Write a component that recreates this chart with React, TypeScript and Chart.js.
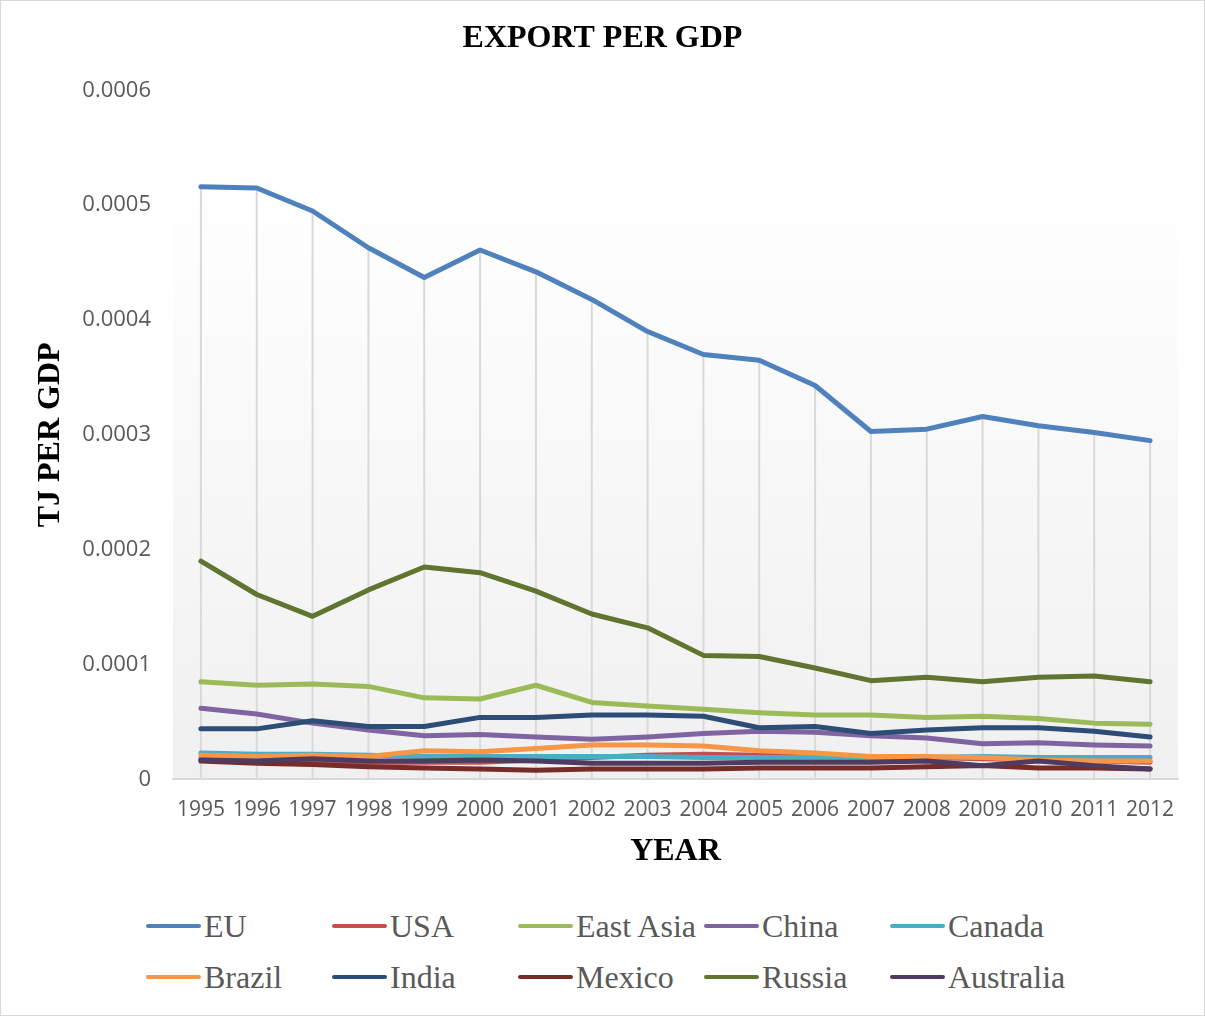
import React, { useEffect, useRef } from "react";
import { Chart, registerables } from "chart.js";

Chart.register(...registerables);

const years = ["1995","1996","1997","1998","1999","2000","2001","2002","2003","2004","2005","2006","2007","2008","2009","2010","2011","2012"];

const seriesNames = ["EU","USA","East Asia","China","Canada","Brazil","India","Mexico","Russia","Australia"];
const seriesColors = ["#4f81bd","#c0504d","#9bbb59","#8064a2","#4bacc6","#f79646","#2c4d75","#772c2a","#5f7530","#4d3b62"];

const eu = [0.000516,0.000515,0.000495,0.000463,0.000437,0.000461,0.000442,0.000418,0.00039,0.00037,0.000365,0.000343,0.000303,0.000305,0.000316,0.000308,0.000302,0.000295];
const usa = [0.000018,0.000017,0.000016,0.000015,0.000015,0.000015,0.000017,0.000019,0.000021,0.000022,0.000021,0.00002,0.000019,0.000019,0.000018,0.000017,0.000016,0.000015];
const eastAsia = [0.000085,0.000082,0.000083,0.000081,0.000071,0.00007,0.000082,0.000067,0.000064,0.000061,0.000058,0.000056,0.000056,0.000054,0.000055,0.000053,0.000049,0.000048];
const china = [0.000062,0.000057,0.000049,0.000043,0.000038,0.000039,0.000037,0.000035,0.000037,0.00004,0.000042,0.000041,0.000038,0.000036,0.000031,0.000032,0.00003,0.000029];
const canada = [0.000023,0.000022,0.000022,0.000021,0.00002,0.00002,0.00002,0.00002,0.00002,0.000019,0.000019,0.000019,0.000018,0.000019,0.00002,0.000019,0.000019,0.000019];
const brazil = [0.000021,0.00002,0.000021,0.00002,0.000025,0.000024,0.000027,0.00003,0.00003,0.000029,0.000025,0.000023,0.00002,0.00002,0.000019,0.000017,0.000016,0.000016];
const india = [0.000044,0.000044,0.000051,0.000046,0.000046,0.000054,0.000054,0.000056,0.000056,0.000055,0.000045,0.000046,0.00004,0.000043,0.000045,0.000045,0.000042,0.000037];
const mexico = [0.000016,0.000014,0.000013,0.000011,0.00001,0.000009,0.000008,0.000009,0.000009,0.000009,0.00001,0.00001,0.00001,0.000011,0.000012,0.00001,0.00001,0.000009];
const russia = [0.00019,0.000161,0.000142,0.000165,0.000185,0.00018,0.000164,0.000144,0.000132,0.000108,0.000107,0.000097,0.000086,0.000089,0.000085,0.000089,0.00009,0.000085];
const australia = [0.000017,0.000016,0.000018,0.000016,0.000016,0.000017,0.000016,0.000014,0.000014,0.000014,0.000015,0.000015,0.000015,0.000016,0.000012,0.000016,0.000012,0.000009];

const seriesValues = [eu, usa, eastAsia, china, canada, brazil, india, mexico, russia, australia];

const yTicks = [0, 0.0001, 0.0002, 0.0003, 0.0004, 0.0005, 0.0006];

const backgroundPlugin = {
  id: "plotBackground",
  beforeDraw(chart: any) {
    const { ctx, chartArea } = chart;
    const top = chartArea.top + (chartArea.bottom - chartArea.top) * 0.13;
    const g = ctx.createLinearGradient(0, top, 0, chartArea.bottom);
    g.addColorStop(0, "#ffffff");
    g.addColorStop(1, "#f0f0f0");
    ctx.save();
    ctx.fillStyle = g;
    ctx.fillRect(chartArea.left, top, chartArea.right - chartArea.left, chartArea.bottom - top);
    ctx.restore();
  },
  beforeDatasetsDraw(chart: any) {
    const { ctx, chartArea } = chart;
    const xs = chart.scales.x;
    const ys = chart.scales.y;
    ctx.save();
    ctx.strokeStyle = "#d9d9d9";
    ctx.lineWidth = 2;
    years.forEach((_, i) => {
      let max = 0;
      chart.data.datasets.forEach((ds: any) => {
        if (ds.data[i] > max) max = ds.data[i];
      });
      const x = xs.getPixelForValue(i);
      ctx.beginPath();
      ctx.moveTo(x, ys.getPixelForValue(max));
      ctx.lineTo(x, chartArea.bottom);
      ctx.stroke();
    });
    ctx.restore();
  },
};

const serif = "'Liberation Serif', 'Times New Roman', serif";

export default function App() {
  const ref = useRef<HTMLCanvasElement>(null);

  useEffect(() => {
    document.body.style.margin = "0";
    const chart = new Chart(ref.current as HTMLCanvasElement, {
      type: "line",
      data: {
        labels: years,
        datasets: seriesNames.map((name, i) => ({
          label: name,
          data: seriesValues[i],
          borderColor: seriesColors[i],
          backgroundColor: seriesColors[i],
          borderWidth: 5,
          pointRadius: 0,
          tension: 0,
          borderCapStyle: "round" as const,
          borderJoinStyle: "round" as const,
          order: seriesNames.length - i,
        })),
      },
      options: {
        animation: false,
        responsive: false,
        maintainAspectRatio: false,
        layout: { padding: { left: 0, right: 0, top: 0, bottom: 10 } },
        plugins: {
          legend: { display: false },
          tooltip: { enabled: false },
          title: {
            display: true,
            text: "EXPORT PER GDP",
            color: "#000000",
            font: { family: serif, size: 32, weight: "bold" },
            padding: { top: 19, bottom: 32 },
          },
        },
        scales: {
          x: {
            type: "category",
            offset: true,
            grid: { display: false, offset: false, drawTicks: false },
            border: { display: true, color: "#d9d9d9", width: 2 },
            ticks: {
              autoSkip: false,
              maxRotation: 0,
              minRotation: 0,
              padding: 18,
              color: "#595959",
              font: { family: "'Open Sans', sans-serif", size: 21 },
            },
            title: {
              display: true,
              text: "YEAR",
              color: "#000000",
              font: { family: serif, size: 32, weight: "bold" },
              padding: { top: -8, bottom: 0 },
            },
          },
          y: {
            min: 0,
            max: 0.0006,
            afterFit(scale: any) {
              scale.width = 172;
            },
            afterBuildTicks(scale: any) {
              scale.ticks = yTicks.map((v) => ({ value: v }));
            },
            grid: { display: false, drawTicks: false },
            border: { display: false },
            ticks: {
              padding: 22,
              color: "#595959",
              font: { family: "'Open Sans', sans-serif", size: 22 },
              callback: (v: any) => (Number(v) === 0 ? "0" : Number(v).toFixed(4)),
            },
            title: {
              display: true,
              text: "TJ PER GDP",
              color: "#000000",
              font: { family: serif, size: 32, weight: "bold" },
              padding: { top: 31, bottom: 0 },
            },
          },
          yRight: {
            position: "right",
            display: true,
            min: 0,
            max: 0.0006,
            afterFit(scale: any) {
              scale.width = 26;
            },
            grid: { display: false, drawTicks: false },
            border: { display: false },
            ticks: { display: false },
          },
        },
      },
      plugins: [backgroundPlugin],
    });
    return () => chart.destroy();
  }, []);

  return (
    <div
      style={{
        position: "relative",
        width: 1205,
        height: 1016,
        boxSizing: "border-box",
        border: "1px solid #d9d9d9",
        background: "#ffffff",
        overflow: "hidden",
      }}
    >
      <canvas ref={ref} width={1203} height={880} style={{ position: "absolute", left: 0, top: 0 }} />
      <div
        style={{
          position: "absolute",
          left: 145,
          top: 906,
          display: "grid",
          gridTemplateColumns: "repeat(5, 186px)",
          rowGap: 13,
          fontFamily: serif,
          fontSize: 32,
          color: "#595959",
        }}
      >
        {seriesNames.map((name, i) => (
          <div key={name} style={{ display: "flex", alignItems: "center", height: 38, whiteSpace: "nowrap" }}>
            <span
              style={{
                display: "inline-block",
                width: 55,
                height: 4,
                borderRadius: 2,
                background: seriesColors[i],
                marginRight: 3,
              }}
            />
            <span>{name}</span>
          </div>
        ))}
      </div>
    </div>
  );
}
